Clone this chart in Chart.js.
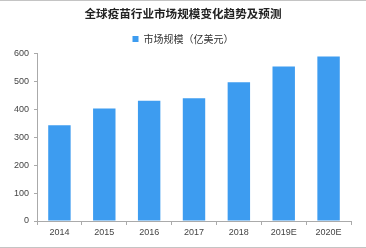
<!DOCTYPE html>
<html>
<head>
<meta charset="utf-8">
<script src="https://cdn.jsdelivr.net/npm/chart.js@4/dist/chart.umd.min.js"></script>
<style>
  body { margin: 0; background: #fff; }
  #wrap { width: 366px; height: 248px; box-sizing: border-box; border-top: 1px solid #c4c4c4; border-bottom: 1px solid #c4c4c4; }
  #box { position: relative; width: 366px; height: 246px; }
</style>
</head>
<body>
<div id="wrap"><div id="box"><canvas id="vaccineChart"></canvas></div></div>
<script>
// 全球疫苗行业市场规模（亿美元）
const years = ['2014', '2015', '2016', '2017', '2018', '2019E', '2020E'];
const marketSize = [344, 404, 432, 441, 498, 555, 591];
const yTicks = [0, 100, 200, 300, 400, 500, 600];

document.addEventListener('DOMContentLoaded', () => {
    const ctx = document.getElementById('vaccineChart').getContext('2d');
    new Chart(ctx, {
        type: 'bar',
        data: {
            labels: years,
            datasets: [{
                label: '市场规模（亿美元）',
                data: marketSize,
                backgroundColor: '#3d9cf0',
                borderWidth: 0,
                categoryPercentage: 1,
                barPercentage: 0.5
            }]
        },
        options: {
            responsive: true,
            maintainAspectRatio: false,
            animation: false,
            layout: { padding: { left: 0, right: 0, top: 0, bottom: 2 } },
            plugins: {
                title: {
                    display: true,
                    text: '全球疫苗行业市场规模变化趋势及预测',
                    color: '#222',
                    font: { family: '"Noto Sans CJK SC"', size: 11.6, weight: 'bold' },
                    padding: { top: 6, bottom: 7.5 }
                },
                legend: {
                    display: true,
                    labels: {
                        color: '#333',
                        boxWidth: 6,
                        boxHeight: 6,
                        padding: 5.5,
                        font: { family: '"Noto Sans CJK SC"', size: 10 }
                    }
                },
                tooltip: { enabled: false }
            },
            scales: {
                x: {
                    grid: { drawOnChartArea: false, drawTicks: true, tickLength: 4, color: '#aaa', offset: true },
                    border: { display: true, color: '#aaa' },
                    ticks: { color: '#444', font: { family: 'Liberation Sans', size: 9 }, padding: 2 },
                    afterFit: scale => { scale.height = 24; }
                },
                y: {
                    min: 0,
                    max: 600,
                    afterBuildTicks: scale => { scale.ticks = yTicks.map(v => ({ value: v })); },
                    grid: { drawOnChartArea: false, drawTicks: true, tickLength: 3, color: '#aaa' },
                    border: { display: true, color: '#aaa' },
                    ticks: { color: '#444', font: { family: 'Liberation Sans', size: 9 }, padding: 5 },
                    afterFit: scale => { scale.width = 37; }
                },
                // empty right-hand spacer so the title and legend stay centred
                spacer: {
                    position: 'right',
                    grid: { display: false },
                    border: { display: false },
                    ticks: { display: false },
                    afterFit: scale => { scale.width = 15; }
                }
            }
        }
    });
});
</script>
</body>
</html>
